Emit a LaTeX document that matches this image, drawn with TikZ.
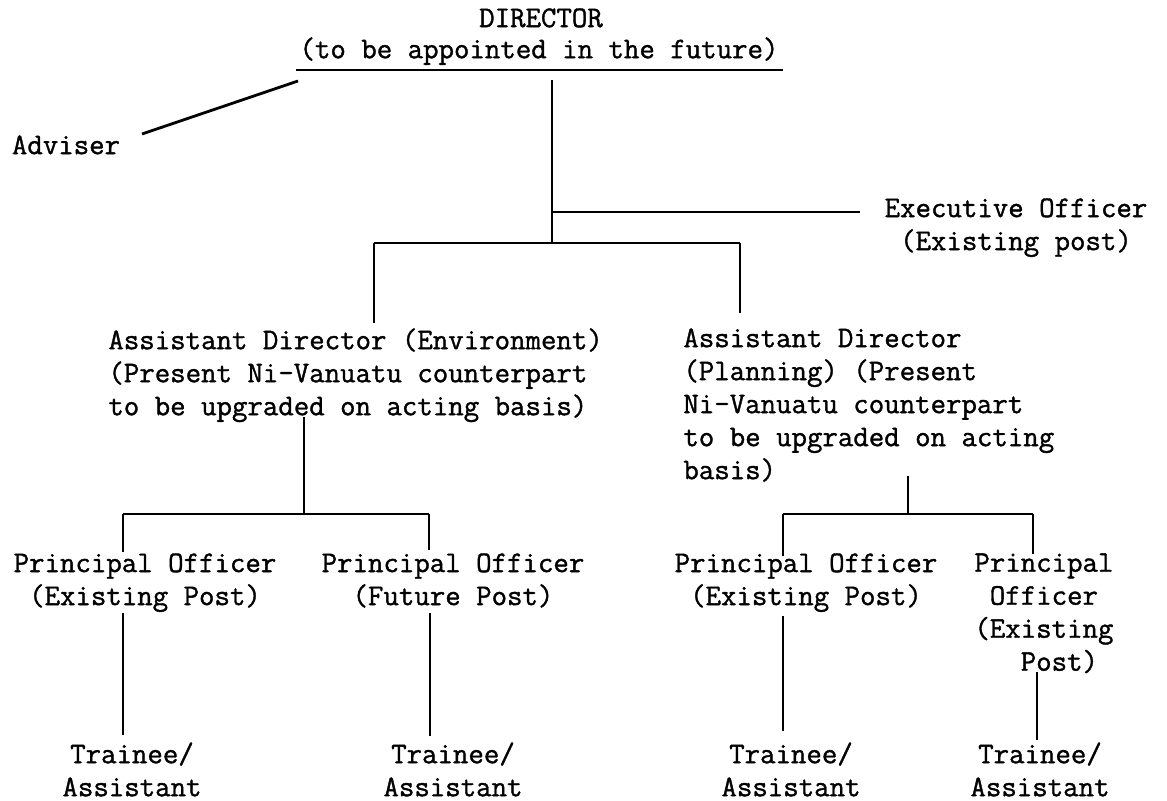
\documentclass[tikz,border=0pt]{standalone}
\usepackage{fontspec}
\newfontfamily\typewriter{Latin Modern Mono}[FakeBold=1.2]
\usetikzlibrary{calc}

\begin{document}
\begin{tikzpicture}[x=0.5pt,y=-0.5pt,
  post/.style={font=\typewriter\fontsize{15}{16.5}\selectfont,align=center,inner sep=0pt,anchor=north},
  postl/.style={post,align=left,anchor=north west},
  link/.style={line width=1.4pt}]
\useasboundingbox (0,0) rectangle (1167,801);

% Director
\node[post] (dir) at (541,8) {DIRECTOR};
\node[post] (dirnote) at (539,37) {(to be appointed in the future)};
\coordinate (ulw) at (296,70);
\coordinate (ule) at (783,70);
\draw[link] (ulw) -- (ule);

% Adviser
\node[post] (adv) at (66,135) {Adviser};
\coordinate (advtip) at (298,81);
\coordinate (advend) at (142,134);
\draw[link] (advtip) -- (advend);

% Executive officer
\node[post] (exec) at (1016,198) {Executive Officer\\(Existing post)};
\coordinate (dirtop) at (552,80);
\coordinate (execj) at (552,212);
\coordinate (execend) at (860,212);
\coordinate (barj) at (552,243);
\draw[link] (dirtop) -- (barj);
\draw[link] (execj) -- (execend);

% Assistant directors
\coordinate (barw) at (374,243);
\coordinate (bare) at (740,243);
\draw[link] (barw) -- (bare);
\draw[link] (barw) -- ++(0,80);
\draw[link] (bare) -- ++(0,70);
\node[postl] (adenv) at (108,328) {Assistant Director (Environment)\\(Present Ni-Vanuatu counterpart\\to be upgraded on acting basis)};
\node[postl] (adplan) at (683,328) {Assistant Director\\(Planning) (Present\\Ni-Vanuatu counterpart\\to be upgraded on acting\\basis)};

% Environment branch
\coordinate (envtop) at (304,417);
\coordinate (envj) at (304,514);
\coordinate (envw) at (123,514);
\coordinate (enve) at (429,514);
\draw[link] (envtop) -- (envj);
\draw[link] (envw) -- (enve);
\draw[link] (envw) -- ++(0,38);
\draw[link] (enve) -- ++(0,36);

% Planning branch
\coordinate (plantop) at (908,476);
\coordinate (planj) at (908,514);
\coordinate (planw) at (783,514);
\coordinate (plane) at (1033,514);
\draw[link] (plantop) -- (planj);
\draw[link] (planw) -- (plane);
\draw[link] (planw) -- ++(0,42);
\draw[link] (plane) -- ++(0,40);

% Principal officers
\node[post] (po1) at (145,553) {Principal Officer\\(Existing Post)};
\node[post] (po2) at (453,553) {Principal Officer\\(Future Post)};
\node[post] (po3) at (806,553) {Principal Officer\\(Existing Post)};
\node[postl] (po4) at (974,553) {Principal\\\phantom{x}Officer\\(Existing\\\phantom{xxx}Post)};

% Trainees
\node[post] (tr1) at (132,742) {Trainee/\\Assistant};
\node[post] (tr2) at (453,742) {Trainee/\\Assistant};
\node[post] (tr3) at (791,742) {Trainee/\\Assistant};
\node[post] (tr4) at (1040,742) {Trainee/\\Assistant};
\draw[link] (123,613) -- (123,735);
\draw[link] (430,613) -- (430,736);
\draw[link] (783,616) -- (783,731);
\draw[link] (1037,672) -- (1037,740);
\end{tikzpicture}
\end{document}
